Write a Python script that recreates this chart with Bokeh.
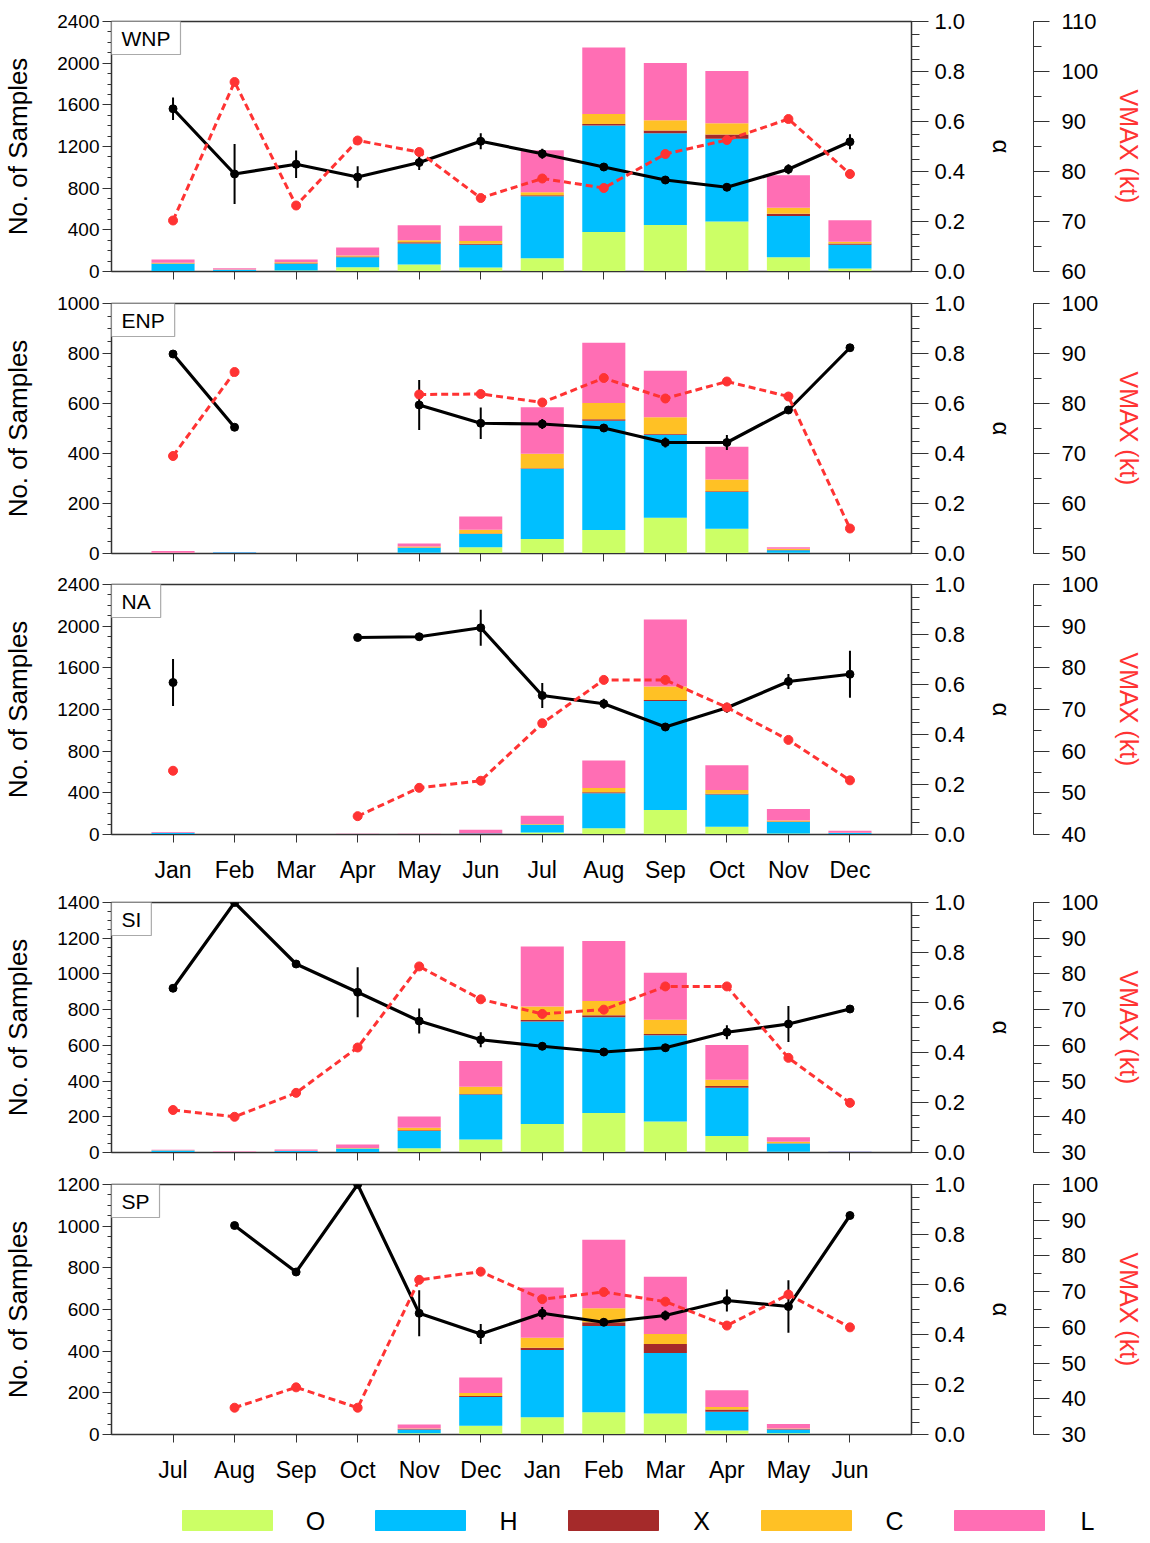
import math
import numpy as np
from bokeh.plotting import figure
from bokeh.layouts import column
from bokeh.models import (Range1d, LinearAxis, SingleIntervalTicker, FixedTicker,
                          NumeralTickFormatter, Label, ColumnDataSource)
from bokeh.core.properties import value
from bokeh.embed import file_html
from bokeh.resources import INLINE

NaN = float("nan")

# ---------------- data ----------------
months_nh = ["Jan", "Feb", "Mar", "Apr", "May", "Jun", "Jul", "Aug", "Sep", "Oct", "Nov", "Dec"]
months_sh = ["Jul", "Aug", "Sep", "Oct", "Nov", "Dec", "Jan", "Feb", "Mar", "Apr", "May", "Jun"]
classes = ["O", "H", "X", "C", "L"]
class_colors = ["#CCFF66", "#00BFFF", "#A52A2A", "#FFC125", "#FF6EB4"]

WNP_O = [5, 2, 10, 42, 67, 38, 128, 379, 446, 481, 138, 29]
WNP_H = [70, 15, 64, 96, 203, 218, 594, 1023, 882, 793, 395, 228]
WNP_X = [2, 1, 5, 5, 10, 10, 9, 13, 26, 41, 22, 13]
WNP_C = [8, 2, 10, 10, 20, 26, 29, 96, 99, 109, 58, 16]
WNP_L = [30, 12, 26, 77, 145, 148, 405, 639, 549, 501, 311, 205]
WNP_alpha = [0.651, 0.390, 0.429, 0.378, 0.436, 0.521, 0.471, 0.418, 0.366, 0.337, 0.409, 0.519]
WNP_alpha_err = [0.045, 0.12, 0.055, 0.043, 0.03, 0.032, 0.02, 0.01, 0.01, 0.01, 0.02, 0.03]
WNP_vmax = [70.2, 97.9, 73.2, 86.2, 83.9, 74.7, 78.6, 76.7, 83.5, 86.3, 90.5, 79.5]

ENP_O = [0, 0, 0, 0, 3, 25, 58, 94, 143, 99, 3, 0]
ENP_H = [2, 5, 0, 0, 20, 53, 281, 437, 332, 147, 10, 0]
ENP_X = [0, 0, 0, 0, 1, 2, 2, 6, 3, 3, 1, 0]
ENP_C = [1, 0, 0, 0, 4, 15, 58, 65, 67, 47, 5, 0]
ENP_L = [7, 1, 0, 0, 12, 53, 186, 241, 186, 131, 6, 0]
ENP_alpha = [0.798, 0.505, NaN, NaN, 0.594, 0.521, 0.518, 0.502, 0.444, 0.444, 0.574, 0.823]
ENP_alpha_err = [0, 0, 0, 0, 0.10, 0.063, 0.02, 0.015, 0.02, 0.03, 0, 0]
ENP_vmax = [69.5, 86.3, NaN, NaN, 81.8, 81.9, 80.2, 85.1, 81.0, 84.4, 81.4, 55.0]

NA_O = [2, 0, 0, 0, 0, 2, 20, 61, 235, 74, 10, 2]
NA_H = [15, 0, 0, 1, 0, 8, 73, 334, 1047, 311, 109, 12]
NA_X = [0, 0, 0, 0, 0, 1, 2, 10, 10, 7, 6, 1]
NA_C = [1, 0, 0, 0, 0, 2, 5, 42, 129, 35, 10, 3]
NA_L = [7, 0, 0, 7, 8, 32, 80, 264, 643, 238, 109, 17]
NA_alpha = [0.608, NaN, NaN, 0.788, 0.791, 0.827, 0.556, 0.523, 0.430, 0.507, 0.612, 0.641]
NA_alpha_err = [0.094, 0, 0, 0.01, 0.01, 0.072, 0.05, 0.02, 0.01, 0.02, 0.03, 0.094]
NA_vmax = [55.3, NaN, NaN, 44.4, 51.2, 52.9, 66.7, 77.1, 77.1, 70.5, 62.7, 53.0]

SI_O = [1, 0, 1, 2, 24, 73, 159, 221, 174, 93, 4, 0]
SI_H = [10, 1, 8, 20, 97, 252, 574, 536, 482, 270, 46, 4]
SI_X = [0, 0, 0, 1, 4, 2, 9, 11, 8, 9, 2, 0]
SI_C = [1, 0, 1, 2, 13, 41, 75, 80, 80, 36, 8, 0]
SI_L = [3, 4, 7, 20, 64, 144, 336, 337, 262, 194, 26, 1]
SI_alpha = [0.657, 1.0, 0.754, 0.641, 0.526, 0.451, 0.425, 0.402, 0.419, 0.481, 0.514, 0.574]
SI_alpha_err = [0, 0, 0, 0.1, 0.05, 0.03, 0.015, 0.01, 0.015, 0.028, 0.072, 0]
SI_vmax = [41.9, 40.0, 46.7, 59.4, 82.1, 72.9, 68.8, 70.0, 76.5, 76.5, 56.5, 43.9]

SP_O = [0, 0, 0, 0, 6, 42, 83, 107, 101, 19, 6, 0]
SP_H = [0, 0, 0, 0, 18, 138, 323, 414, 290, 90, 18, 0]
SP_X = [0, 0, 0, 0, 2, 5, 11, 18, 44, 11, 3, 0]
SP_C = [0, 0, 0, 0, 3, 14, 48, 67, 48, 12, 2, 0]
SP_L = [0, 0, 0, 0, 19, 75, 241, 329, 274, 81, 21, 3]
SP_alpha = [NaN, 0.836, 0.650, 1.0, 0.485, 0.402, 0.485, 0.449, 0.476, 0.536, 0.512, 0.876]
SP_alpha_err = [0, 0, 0, 0, 0.092, 0.04, 0.025, 0.015, 0.02, 0.044, 0.105, 0]
SP_vmax = [NaN, 37.5, 43.2, 37.5, 73.3, 75.6, 67.9, 69.9, 67.2, 60.5, 69.2, 60.0]

# ---------------- style ----------------
FONT = "Liberation Sans"
RED = "#FF3333"
FRAME = "#333333"


def style_axis(ax, tick_out, minor_out, label_size, standoff):
    ax.major_tick_out = tick_out
    ax.major_tick_in = 0
    ax.minor_tick_out = minor_out
    ax.minor_tick_in = 0
    ax.axis_line_color = FRAME
    ax.major_tick_line_color = FRAME
    ax.minor_tick_line_color = FRAME
    ax.major_label_text_font = FONT
    ax.major_label_text_font_size = label_size
    ax.major_label_standoff = standoff
    ax.major_label_text_color = "black"
    ax.axis_label_text_font = FONT
    ax.axis_label_text_font_style = "normal"
    ax.axis_label_text_color = "black"


def make_panel(name, months, show_months, O, H, X, C, L, alpha, alpha_err, vmax,
               ymax, yint, vlo, vhi, top, bottom):
    xs = list(range(1, 13))
    p = figure(frame_width=800, frame_height=250, x_range=Range1d(0, 13), y_range=Range1d(0, ymax),
               output_backend="svg", toolbar_location=None,
               min_border_left=105, min_border_right=10, min_border_top=top, min_border_bottom=bottom)
    p.extra_y_ranges = {"alpha": Range1d(0, 1), "vmax": Range1d(vlo, vhi)}
    p.grid.visible = False
    p.outline_line_color = FRAME
    p.outline_line_width = 1.5
    p.background_fill_color = "white"
    p.border_fill_color = "white"

    # left axis
    ya = p.yaxis[0]
    ya.ticker = SingleIntervalTicker(interval=yint, num_minor_ticks=4)
    style_axis(ya, 9, 4, "19px", 3)
    ya.axis_label = "No. of Samples"
    ya.axis_label_text_font_size = "26px"
    ya.axis_label_standoff = 21

    # bottom axis
    xa = p.xaxis[0]
    xa.ticker = FixedTicker(ticks=xs)
    style_axis(xa, 8, 0, "23px", 14)
    xa.minor_tick_line_color = None
    if show_months:
        xa.major_label_overrides = {i + 1: m for i, m in enumerate(months)}
    else:
        xa.major_label_overrides = {i + 1: "" for i in range(12)}
        xa.major_label_text_font_size = "0px"
        xa.major_label_standoff = 0

    # alpha axis
    aa = LinearAxis(y_range_name="alpha",
                    ticker=SingleIntervalTicker(interval=0.2, num_minor_ticks=4),
                    formatter=NumeralTickFormatter(format="0.0"),
                    axis_label="α")
    style_axis(aa, 17, 8, "22px", 6)
    aa.axis_label_text_font_size = "24px"
    aa.axis_label_standoff = 20
    p.add_layout(aa, "right")

    # spacer between the two right axes (white tick, invisible on white)
    sp = LinearAxis(y_range_name="alpha", ticker=FixedTicker(ticks=[0.5]))
    sp.axis_line_color = None
    sp.major_tick_line_color = "white"
    sp.minor_tick_line_color = None
    sp.major_tick_out = 15
    sp.major_tick_in = 0
    sp.minor_tick_out = 0
    sp.major_label_overrides = {0.5: ""}
    sp.major_label_text_font_size = "0px"
    sp.major_label_standoff = 0
    p.add_layout(sp, "right")

    # vmax axis
    va = LinearAxis(y_range_name="vmax",
                    ticker=SingleIntervalTicker(interval=10, num_minor_ticks=2),
                    axis_label="VMAX (kt)")
    style_axis(va, 16, 8, "22px", 12)
    va.axis_label_text_color = RED
    va.axis_label_text_font_size = "25px"
    va.axis_label_standoff = 14
    p.add_layout(va, "right")

    # stacked bars
    src = ColumnDataSource(dict(x=xs, O=O, H=H, X=X, C=C, L=L))
    p.vbar_stack(classes, x="x", width=0.7, source=src, fill_color=class_colors, line_color=None)

    # alpha line with error bars
    a = np.array(alpha, dtype=float)
    e = np.array(alpha_err, dtype=float)
    asrc = ColumnDataSource(dict(x=xs, a=a))
    p.line("x", "a", source=asrc, y_range_name="alpha", line_color="black", line_width=3.2)
    ok = [(x, ai, ei) for x, ai, ei in zip(xs, a, e) if ei > 0 and not math.isnan(ai)]
    p.segment(x0=[t[0] for t in ok], y0=[t[1] - t[2] for t in ok],
              x1=[t[0] for t in ok], y1=[t[1] + t[2] for t in ok],
              y_range_name="alpha", line_color="black", line_width=2)
    p.scatter("x", "a", source=asrc, y_range_name="alpha", size=8, color="black")

    # vmax line
    v = np.array(vmax, dtype=float)
    vsrc = ColumnDataSource(dict(x=xs, v=v))
    p.line("x", "v", source=vsrc, y_range_name="vmax", line_color=RED, line_width=3,
           line_dash="7 4")
    p.scatter("x", "v", source=vsrc, y_range_name="vmax", size=9, color=RED)

    # basin tag
    common = dict(x=0, y=250, x_units="screen", y_units="screen", text=name,
                  text_align="left", text_baseline="top", text_font=FONT, text_font_size="21px",
                  text_color="black", border_line_color="#AAAAAA", border_line_width=1.2,
                  background_fill_color="white")
    try:
        tag = Label(padding=dict(x=10, y=5), **common)
    except Exception:
        try:
            tag = Label(padding=7, **common)
        except Exception:
            tag = Label(**common)
    p.add_layout(tag)
    return p


p1 = make_panel("WNP", months_nh, False, WNP_O, WNP_H, WNP_X, WNP_C, WNP_L,
                WNP_alpha, WNP_alpha_err, WNP_vmax, 2400, 400, 60, 110, 21, 19)
p2 = make_panel("ENP", months_nh, False, ENP_O, ENP_H, ENP_X, ENP_C, ENP_L,
                ENP_alpha, ENP_alpha_err, ENP_vmax, 1000, 200, 50, 100, 13, 18)
p3 = make_panel("NA", months_nh, True, NA_O, NA_H, NA_X, NA_C, NA_L,
                NA_alpha, NA_alpha_err, NA_vmax, 2400, 400, 40, 100, 13, 55)
p4 = make_panel("SI", months_sh, False, SI_O, SI_H, SI_X, SI_C, SI_L,
                SI_alpha, SI_alpha_err, SI_vmax, 1400, 200, 30, 100, 13, 19)
p5 = make_panel("SP", months_sh, True, SP_O, SP_H, SP_X, SP_C, SP_L,
                SP_alpha, SP_alpha_err, SP_vmax, 1200, 200, 30, 100, 13, 46)

# legend strip (horizontal key); its frame starts at the same left edge as the panels
key_x0, key_step, key_label_dx = 116, 193, 88
key_y = 17
leg = figure(frame_width=1020, frame_height=52, x_range=Range1d(0, 1020), y_range=Range1d(0, 52),
             output_backend="svg", toolbar_location=None,
             min_border_left=105, min_border_right=0, min_border_top=0, min_border_bottom=0)
leg.axis.visible = False
leg.grid.visible = False
leg.outline_line_color = None
sw_x = [key_x0 + i * key_step for i in range(len(classes))]
lab_x = [x + key_label_dx for x in sw_x]
leg.rect(x=sw_x, y=[key_y] * len(classes), width=90, height=20,
         fill_color=class_colors, line_color=class_colors)
leg.text(x=lab_x, y=[key_y] * len(classes), text=classes, text_font=value(FONT),
         text_font_size=value("25px"), text_align="center", text_baseline="middle",
         text_color="black")

layout = column(p1, p2, p3, p4, p5, leg, spacing=0)
open("out.html", "w").write(file_html(layout, INLINE))
